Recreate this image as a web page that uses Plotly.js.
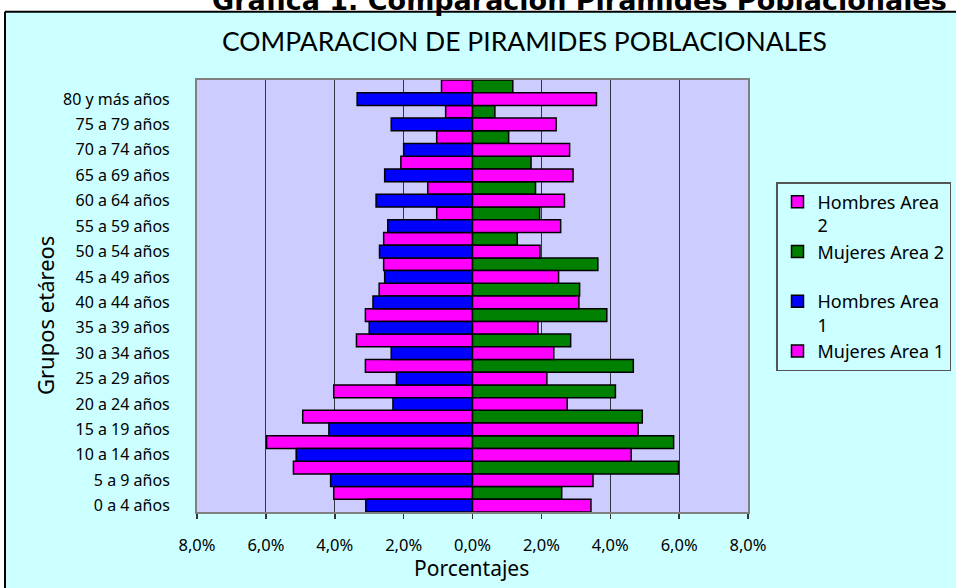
<!DOCTYPE html>
<html>
<head>
<meta charset="utf-8">
<script src="https://cdn.plot.ly/plotly-3.0.1.min.js"></script>
<style>
  html, body { margin: 0; padding: 0; background: #ffffff; }
  #chart { width: 956px; height: 588px; }
</style>
</head>
<body>
<div id="chart"></div>
<script>
// Age groups, bottom to top
const categories = ["0 a 4 años", "5 a 9 años", "10 a 14 años", "15 a 19 años", "20 a 24 años",
  "25 a 29 años", "30 a 34 años", "35 a 39 años", "40 a 44 años", "45 a 49 años",
  "50 a 54 años", "55 a 59 años", "60 a 64 años", "65 a 69 años", "70 a 74 años",
  "75 a 79 años", "80 y más años"];

// Percentages (men drawn to the left)
const hombresArea2 = [4.03, 5.20, 5.98, 4.93, 4.03, 3.11, 3.37, 3.11, 2.71, 2.58, 2.58, 1.04, 1.30, 2.08, 1.04, 0.78, 0.90];
const mujeresArea2 = [2.59, 5.98, 5.84, 4.93, 4.15, 4.67, 2.85, 3.90, 3.11, 3.64, 1.30, 1.95, 1.83, 1.70, 1.05, 0.65, 1.17];
const hombresArea1 = [3.10, 4.12, 5.12, 4.17, 2.31, 2.21, 2.36, 3.00, 2.89, 2.55, 2.70, 2.46, 2.80, 2.55, 2.00, 2.36, 3.35];
const mujeresArea1 = [3.44, 3.50, 4.61, 4.81, 2.75, 2.16, 2.36, 1.90, 3.09, 2.50, 1.96, 2.56, 2.67, 2.92, 2.82, 2.43, 3.60];

const xTickVals = [-8, -6, -4, -2, 0, 2, 4, 6, 8];
const xTickLabels = ["8,0%", "6,0%", "4,0%", "2,0%", "0,0%", "2,0%", "4,0%", "6,0%", "8,0%"];

const FONT = "Lato, 'Noto Sans', sans-serif";
const FONT2 = "'Noto Sans', Lato, sans-serif";
const neg = a => a.map(v => -v);
const line = { color: "#000000", width: 1.5 };

const traces = [
  { type: "bar", orientation: "h", name: "Hombres Area<br>2", y: categories, x: neg(hombresArea2),
    width: 0.5, offset: 0.25, marker: { color: "#FF00FF", line: line } },
  { type: "bar", orientation: "h", name: "Mujeres Area 2<br>&nbsp;", y: categories, x: mujeresArea2,
    width: 0.5, offset: 0.25, marker: { color: "#008000", line: line } },
  { type: "bar", orientation: "h", name: "Hombres Area<br>1", y: categories, x: neg(hombresArea1),
    width: 0.5, offset: -0.25, marker: { color: "#0000FF", line: line } },
  { type: "bar", orientation: "h", name: "Mujeres Area 1", y: categories, x: mujeresArea1,
    width: 0.5, offset: -0.25, marker: { color: "#FF00FF", line: line } }
];

const L = 197, R = 748, T = 80, B = 512;
const px = v => (v - L) / (R - L);
const py = v => (B - v) / (B - T);

const layout = {
  width: 956, height: 588,
  margin: { l: L, r: 956 - R, t: T, b: 588 - B, pad: 0, autoexpand: false },
  paper_bgcolor: "#CCFFFF",
  plot_bgcolor: "#CCCCFF",
  barmode: "overlay",
  font: { family: FONT2, color: "#000000", size: 16 },
  showlegend: true,
  legend: {
    x: px(776), y: py(182), xanchor: "left", yanchor: "top",
    bgcolor: "#CCFFFF", bordercolor: "#555555", borderwidth: 1.5,
    font: { family: FONT2, size: 18, color: "#000000" },
    traceorder: "normal", valign: "top", tracegroupgap: 0
  },
  xaxis: {
    range: [-8, 8], tickvals: xTickVals, ticktext: xTickLabels,
    showgrid: true, gridcolor: "#333344", gridwidth: 1,
    zeroline: true, zerolinecolor: "#000000", zerolinewidth: 1.5,
    showline: true, linecolor: "#808080", linewidth: 2, mirror: true,
    ticks: "outside", ticklen: 5, tickcolor: "#333333", tickwidth: 1.5,
    tickfont: { family: FONT2, size: 16.5 }, ticklabelstandoff: 12,
    fixedrange: true
  },
  yaxis: {
    type: "category", range: [-0.25, 16.75], autorange: false,
    showgrid: false, zeroline: false,
    showline: true, linecolor: "#808080", linewidth: 2, mirror: true,
    ticks: "", tickfont: { family: FONT2, size: 16 }, ticklabelstandoff: 22,
    fixedrange: true
  },
  shapes: [
    { type: "rect", xref: "paper", yref: "paper", x0: -1, x1: 2, y0: py(11.7), y1: 1.5,
      fillcolor: "#FFFFFF", line: { width: 0 }, layer: "below" },
    { type: "rect", xref: "paper", yref: "paper", x0: -1, x1: px(5), y0: -0.5, y1: 1.5,
      fillcolor: "#FFFFFF", line: { width: 0 }, layer: "below" },
    { type: "line", xref: "paper", yref: "paper", x0: px(5), x1: px(5), y0: -0.5, y1: py(11.7),
      line: { color: "#000000", width: 2 } },
    { type: "line", xref: "paper", yref: "paper", x0: px(5), x1: 2, y0: py(11.7), y1: py(11.7),
      line: { color: "#000000", width: 2 } }
  ],
  annotations: [
    { text: "<b>Grafica 1. Comparacion Piramides Poblacionales</b>", xref: "paper", yref: "paper",
      x: px(210), y: py(0), xanchor: "left", yanchor: "middle", showarrow: false,
      font: { family: "'DejaVu Sans', sans-serif", size: 27, color: "#000000" } },
    { text: "COMPARACION DE PIRAMIDES POBLACIONALES", xref: "paper", yref: "paper",
      x: px(524), y: py(41), xanchor: "center", yanchor: "middle", showarrow: false,
      font: { family: FONT, size: 26.5, color: "#000000" } },
    { text: "Grupos etáreos", xref: "paper", yref: "paper", textangle: -90,
      x: px(45), y: py(316), xanchor: "center", yanchor: "middle", showarrow: false,
      font: { family: FONT2, size: 22, color: "#000000" } },
    { text: "Porcentajes", xref: "paper", yref: "paper",
      x: px(471), y: py(568), xanchor: "center", yanchor: "middle", showarrow: false,
      font: { family: FONT2, size: 21, color: "#000000" } }
  ]
};

Plotly.newPlot("chart", traces, layout, { displayModeBar: false, staticPlot: true });
</script>
</body>
</html>
